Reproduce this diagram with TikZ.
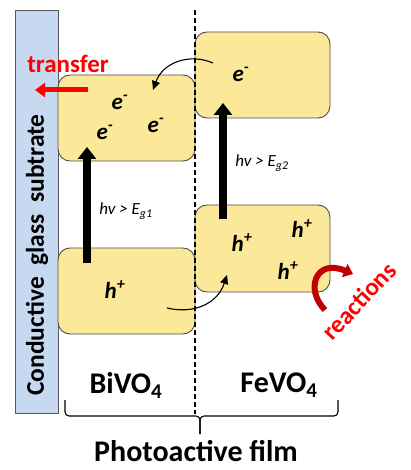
\documentclass[tikz,border=0pt]{standalone}
\usepackage{fontspec}
\setmainfont{Carlito}
\usetikzlibrary{arrows.meta}
\definecolor{bandyellow}{HTML}{FBE898}
\definecolor{glassblue}{HTML}{C6D9F1}
\definecolor{darkred}{HTML}{C00000}
\begin{document}
\begin{tikzpicture}[x=1pt,y=-1pt,
  band/.style={draw=black!70, line width=0.9pt, fill=bandyellow, rounded corners=12pt, inner sep=0pt},
  carrier/.style={font=\fontsize{23}{25}\selectfont\bfseries\itshape, inner sep=0pt},
  photon/.style={font=\fontsize{17}{19}\selectfont\itshape, inner sep=0pt},
  bigarrow/.style={line width=8pt, -{Triangle[width=18pt,length=12pt]}},
  hop/.style={line width=1.1pt, -{Triangle[width=8pt,length=9pt]}},
  mat/.style={font=\fontsize{30}{32}\selectfont\bfseries, inner sep=0pt}
]
\useasboundingbox (0,0) rectangle (410,470);
% glass substrate
\node[draw=black!65, line width=0.9pt, fill=glassblue, minimum width=43pt, minimum height=403pt, inner sep=0pt] (glass) at (36.5,211.5) {};
\node[rotate=90, font=\fontsize{25.5}{27}\selectfont\bfseries, inner sep=0pt] (glasslbl) at (37,255) {Conductive\ \ glass\ \ subtrate};
% bands
\node[band, minimum width=137pt, minimum height=86pt] (bcb) at (126.5,118) {};
\node[band, minimum width=137pt, minimum height=86pt] (bvb) at (126.5,291) {};
\node[band, minimum width=135pt, minimum height=86pt] (fcb) at (262.5,75) {};
\node[band, minimum width=135pt, minimum height=87pt] (fvb) at (262.5,248.5) {};
% dashed separator
\coordinate (septop) at (195,10);
\coordinate (sepbot) at (195,414);
\draw[line width=1.3pt, dash pattern=on 5pt off 3pt] (septop) -- (sepbot);
% carriers
\node[carrier] (e1) at (120,102) {e\textsuperscript{-}};
\node[carrier] (e2) at (105,132) {e\textsuperscript{-}};
\node[carrier] (e3) at (156,125) {e\textsuperscript{-}};
\node[carrier] (e4) at (241,74) {e\textsuperscript{-}};
\node[carrier] (h1) at (115,290) {h\textsuperscript{+}};
\node[carrier] (h2) at (242,243) {h\textsuperscript{+}};
\node[carrier] (h3) at (302,229) {h\textsuperscript{+}};
\node[carrier] (h4) at (288,271) {h\textsuperscript{+}};
% excitation arrows
\coordinate (x1s) at (87,263);
\coordinate (x1e) at (87,147);
\draw[bigarrow] (x1s) -- (x1e);
\coordinate (x2s) at (223,219);
\coordinate (x2e) at (223,103);
\draw[bigarrow] (x2s) -- (x2e);
\node[photon] (g1) at (126,211) {hv > E\textsubscript{g1}};
\node[photon] (g2) at (262,163) {hv > E\textsubscript{g2}};
% charge hops
\coordinate (hopes) at (213,63);
\coordinate (hopee) at (153,90);
\draw[hop] (hopes) .. controls (190,53) and (163,62) .. (hopee);
\coordinate (hophs) at (167,308);
\coordinate (hophe) at (227,275);
\draw[hop] (hophs) .. controls (192,314) and (217,305) .. (hophe);
% transfer
\node[text=red, font=\fontsize{25}{27}\selectfont\bfseries, inner sep=0pt] (trans) at (68,64) {transfer};
\coordinate (trs) at (88,90);
\coordinate (tre) at (35,90);
\draw[red, line width=5pt, -{Triangle[width=14pt,length=10pt]}] (trs) -- (tre);
% reactions
\coordinate (rs) at (325,310);
\coordinate (re) at (353,274);
\draw[darkred, line width=6pt, -{Triangle[width=14pt,length=9pt]}] (rs) .. controls (305,290) and (315,258) .. (re);
\node[text=red, rotate=47, font=\fontsize{25}{27}\selectfont\bfseries, inner sep=0pt] (react) at (359,301) {reactions};
% material labels
\node[mat] (bivo) at (126,385) {BiVO\textsubscript{4}};
\node[mat] (fevo) at (279,385) {FeVO\textsubscript{4}};
% brace
\draw[line width=1.1pt, rounded corners=4pt] (65,400) -- (65,416) -- (200,416) -- (200,434);
\draw[line width=1.1pt, rounded corners=4pt] (200,434) -- (200,416) -- (338,416) -- (338,400);
\node[font=\fontsize{30}{32}\selectfont\bfseries, inner sep=0pt] (film) at (196,451) {Photoactive film};
\end{tikzpicture}
\end{document}
